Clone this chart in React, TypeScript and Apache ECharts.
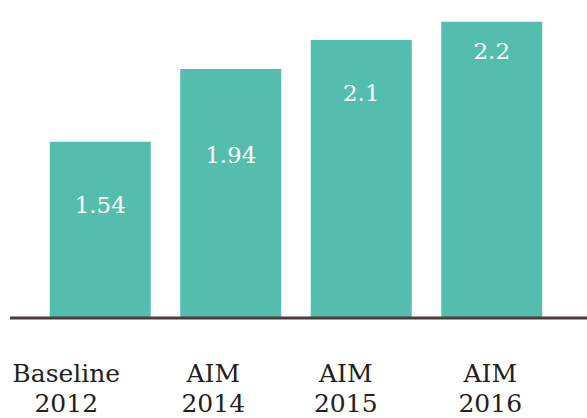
import React, { useEffect, useRef } from "react";
import * as echarts from "echarts";

const categories = ["Baseline\n2012", "AIM\n2014", "AIM\n2015", "AIM\n2016"];
const values = [1.54, 1.94, 2.1, 2.2];
const valueLabels = ["1.54", "1.94", "2.1", "2.2"];

// layout (styling only)
const labelTopOffsets = [63, 86, 53, 29];
const categoryLabelRightPad = [68, 35, 31, 3];

export default function App() {
  const ref = useRef<HTMLDivElement>(null);
  useEffect(() => {
    document.body.style.margin = "0";
    const chart = echarts.init(ref.current!, null, { renderer: "svg" });
    const font = "'DejaVu Serif', Georgia, serif";
    chart.setOption({
      animation: false,
      grid: { left: 35, right: 30, top: 0, bottom: 100, containLabel: false },
      xAxis: {
        type: "category",
        data: categories.map((c, i) => ({
          value: c,
          textStyle: { padding: [0, categoryLabelRightPad[i], 0, 0] },
        })),
        axisLine: { show: false },
        axisTick: { show: false },
        axisLabel: {
          interval: 0,
          hideOverlap: false,
          color: "#231f20",
          fontFamily: font,
          fontSize: 25,
          lineHeight: 30,
          margin: 40,
          align: "center",
        },
      },
      yAxis: {
        type: "value",
        min: 0.57,
        max: 2.32,
        show: false,
        splitLine: { show: false },
      },
      series: [
        {
          type: "bar",
          barWidth: 101,
          itemStyle: { color: "#55bdad" },
          data: values.map((v, i) => ({
            value: v,
            label: {
              show: true,
              position: ["50%", labelTopOffsets[i]],
              align: "center",
              verticalAlign: "middle",
              formatter: valueLabels[i],
            },
          })),
          label: {
            show: true,
            color: "#ffffff",
            fontFamily: font,
            fontSize: 23,
          },
        },
      ],
      graphic: [
        {
          type: "line",
          shape: { x1: 10, y1: 318, x2: 587, y2: 318 },
          style: { stroke: "#4a3d3a", lineWidth: 3 },
          z: 10,
        },
      ],
    });
    return () => chart.dispose();
  }, []);
  return <div ref={ref} style={{ width: 587, height: 418 }} />;
}
